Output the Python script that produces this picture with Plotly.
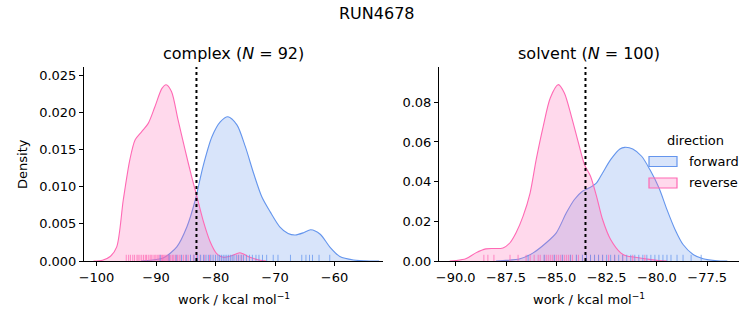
import plotly.graph_objects as go

# ---------------- data ----------------
# KDE curves: complex leg
cx_rev_x = [-100.5, -99.0, -97.7, -96.6, -95.5, -94.4, -93.5, -92.4, -91.3, -90.2, -89.0, -88.3,
            -87.4, -86.3, -85.1, -84.0, -83.2, -82.1, -80.9, -79.8, -78.7, -77.3, -75.9, -74.2, -72.5, -71.5]
cx_rev_y = [0.0, 0.0001, 0.0006, 0.0019, 0.0082, 0.0136, 0.0163, 0.0174, 0.0185, 0.0207, 0.0232, 0.0237,
            0.0228, 0.0190, 0.0149, 0.0113, 0.0089, 0.0055, 0.0026, 0.0010, 0.0005, 0.0007, 0.0011, 0.0005, 0.0001, 0.0]

cx_fwd_x = [-92.5, -91.0, -88.8, -86.5, -84.8, -83.4, -82.1, -80.6, -79.2, -77.9, -76.4, -75.0, -73.6,
            -72.2, -70.8, -69.2, -67.8, -66.6, -65.2, -64.0, -62.4, -60.8, -59.1, -56.8, -54.0, -52.5]
cx_fwd_y = [0.0, 0.0001, 0.0004, 0.0019, 0.0046, 0.0082, 0.0127, 0.0167, 0.0187, 0.0194, 0.0183, 0.0154, 0.0118,
            0.0086, 0.0066, 0.0046, 0.0037, 0.0035, 0.0038, 0.0042, 0.0036, 0.0019, 0.0006, 0.00013, 0.0, 0.0]

# KDE curves: solvent leg
sv_rev_x = [-90.3, -90.0, -89.5, -89.0, -88.5, -88.1, -87.65, -87.3, -87.0, -86.65, -86.3, -86.0, -85.65,
            -85.3, -84.9, -84.6, -84.25, -83.9, -83.6, -83.3, -83.0, -82.7, -82.3, -81.8, -81.5, -81.0,
            -80.5, -80.0, -79.5]
sv_rev_y = [0.0, 0.0002, 0.0011, 0.0041, 0.0061, 0.0063, 0.0066, 0.0092, 0.0142, 0.0226, 0.0344, 0.0511, 0.0679,
            0.0822, 0.0889, 0.0847, 0.0729, 0.0595, 0.0486, 0.0427, 0.0326, 0.0209, 0.0108, 0.0041, 0.0025, 0.0018,
            0.0010, 0.0003, 0.0]

sv_fwd_x = [-88.0, -87.65, -86.8, -86.15, -85.5, -85.0, -84.5, -84.1, -83.7, -83.35, -83.0, -82.7, -82.3,
            -81.84, -81.6, -81.2, -80.76, -80.35, -79.9, -79.5, -79.1, -78.7, -78.2, -77.7, -77.0, -76.5]
sv_fwd_y = [0.0, 0.0002, 0.0011, 0.0041, 0.0092, 0.0142, 0.0243, 0.0310, 0.0352, 0.0369, 0.0394, 0.0444, 0.0511,
            0.0565, 0.0573, 0.0565, 0.0528, 0.0461, 0.0369, 0.0259, 0.0159, 0.0083, 0.0033, 0.0011, 0.0001, 0.0]

# rug samples (approximate positions)
cx_rev_rug = [-95.0, -94.6, -94.3, -93.9, -93.6, -93.2, -93.0, -92.7, -92.4, -92.1, -91.8, -91.6, -91.3,
              -91.0, -90.8, -90.5, -90.2, -90.0, -89.7, -89.5, -89.3, -89.1, -88.9, -88.7, -88.5, -88.3,
              -88.1, -87.9, -87.7, -87.5, -87.2, -87.0, -86.7, -86.4, -86.1, -85.8, -85.4, -85.0, -84.6,
              -84.2, -83.7, -83.2, -82.6, -81.9, -81.0, -76.2, -75.6]
cx_fwd_rug = [-89.3, -87.8, -86.6, -85.7, -84.9, -84.2, -83.6, -83.0, -82.5, -82.0, -81.6, -81.2, -80.8,
              -80.4, -80.0, -79.6, -79.3, -79.0, -78.7, -78.4, -78.1, -77.8, -77.5, -77.2, -76.9, -76.5,
              -76.1, -75.7, -75.3, -74.8, -74.3, -73.8, -73.2, -72.7, -72.1, -71.4, -70.3, -69.5, -67.4,
              -65.5, -64.8, -64.2, -63.7, -62.6, -60.8]
sv_rev_rug = [-88.6, -88.4, -88.1, -87.3, -86.9, -86.5, -86.3, -86.1, -85.9, -85.8, -85.6, -85.5, -85.4,
              -85.3, -85.2, -85.1, -85.0, -84.9, -84.8, -84.7, -84.6, -84.5, -84.4, -84.3, -84.2, -84.0,
              -83.9, -83.7, -83.5, -83.3, -83.1, -82.9, -82.7, -82.4, -82.1, -81.7, -81.2, -80.6]
sv_fwd_rug = [-86.4, -85.6, -85.1, -84.7, -84.3, -84.0, -83.7, -83.5, -83.3, -83.1, -82.9, -82.7, -82.5,
              -82.3, -82.1, -81.9, -81.7, -81.5, -81.3, -81.1, -80.9, -80.7, -80.5, -80.3, -80.1, -79.9,
              -79.7, -79.5, -79.3, -79.0, -78.7, -78.3, -77.8]

free_energy = [-83.2, -83.55]          # dotted vertical lines (complex, solvent)
panel_titles = ["complex (<i>N</i> = 92)", "solvent (<i>N</i> = 100)"]
directions = ["forward", "reverse"]
legend_title = "direction"

left_yticks = [0.0, 0.005, 0.010, 0.015, 0.020, 0.025]
right_yticks = [0.0, 0.02, 0.04, 0.06, 0.08]
left_xticks = [-100, -90, -80, -70, -60]
right_xticks = [-90.0, -87.5, -85.0, -82.5, -80.0, -77.5]

# ---------------- styling ----------------
W, H = 753, 325
BLUE = "#6495ED"
PINK = "#FF69B4"
BLUE_FILL = "rgba(100,149,237,0.25)"
PINK_FILL = "rgba(255,105,180,0.25)"
BLUE_RUG = "rgba(100,149,237,0.75)"
PINK_RUG = "rgba(255,105,180,0.75)"
FONT = "DejaVu Sans"

def px_x(p):
    return p / W

def px_y(p):
    return 1 - p / H

dom1 = [px_x(84), px_x(383)]
dom2 = [px_x(439), px_x(739)]
ydom = [px_y(261), px_y(67)]

fig = go.Figure()

def add_kde(x, y, color, fill, name, xa, ya):
    fig.add_trace(go.Scatter(
        x=x, y=y, mode="lines", line=dict(color=color, width=1.1, shape="spline", smoothing=0.8),
        fill="tozeroy", fillcolor=fill, name=name, showlegend=False,
        xaxis=xa, yaxis=ya, hoverinfo="skip"))

add_kde(cx_fwd_x, cx_fwd_y, BLUE, BLUE_FILL, directions[0], "x", "y")
add_kde(cx_rev_x, cx_rev_y, PINK, PINK_FILL, directions[1], "x", "y")
add_kde(sv_fwd_x, sv_fwd_y, BLUE, BLUE_FILL, directions[0], "x2", "y2")
add_kde(sv_rev_x, sv_rev_y, PINK, PINK_FILL, directions[1], "x2", "y2")

shapes = []
def add_rug(vals, color, xref, yref):
    for v in vals:
        shapes.append(dict(type="line", xref=xref, yref=yref + " domain", x0=v, x1=v, y0=0, y1=0.032,
                           line=dict(color=color, width=1)))

add_rug(cx_rev_rug, PINK_RUG, "x", "y")
add_rug(cx_fwd_rug, BLUE_RUG, "x", "y")
add_rug(sv_rev_rug, PINK_RUG, "x2", "y2")
add_rug(sv_fwd_rug, BLUE_RUG, "x2", "y2")

for v, xr, yr in zip(free_energy, ["x", "x2"], ["y", "y2"]):
    shapes.append(dict(type="line", xref=xr, yref=yr + " domain", x0=v, x1=v, y0=0, y1=1,
                       line=dict(color="black", width=2, dash="dot")))

ann = []

# legend drawn as in seaborn (frameless, patches + labels)
leg_patch_x0, leg_patch_x1 = px_x(649), px_x(677)
leg_rows = [161.5, 183]
for name, color, fill, row in zip(directions, [BLUE, PINK], [BLUE_FILL, PINK_FILL], leg_rows):
    shapes.append(dict(type="rect", xref="paper", yref="paper", x0=leg_patch_x0, x1=leg_patch_x1,
                       y0=px_y(row + 5), y1=px_y(row - 5), fillcolor=fill,
                       line=dict(color=color, width=1.2)))
    ann.append(dict(text=name, x=px_x(687), y=px_y(row), xref="paper", yref="paper", showarrow=False,
                    font=dict(family=FONT, size=13), xanchor="left", yanchor="middle"))
ann.append(dict(text=legend_title, x=px_x(695), y=px_y(141), xref="paper", yref="paper", showarrow=False,
                font=dict(family=FONT, size=13), xanchor="center", yanchor="middle"))

axis_common = dict(showline=True, linecolor="black", linewidth=1, ticks="outside", ticklen=4,
                   tickwidth=1, tickcolor="black", showgrid=False, zeroline=False,
                   tickfont=dict(family=FONT, size=13, color="black"), automargin=False)

fig.update_layout(
    width=W, height=H, margin=dict(l=0, r=0, t=0, b=0),
    paper_bgcolor="white", plot_bgcolor="white",
    font=dict(family=FONT, color="black"),
    xaxis=dict(domain=dom1, range=[-102.1, -51.85], tickvals=left_xticks, anchor="y", **axis_common),
    yaxis=dict(domain=ydom, range=[0, 0.02608], tickvals=left_yticks, tickformat=".3f", anchor="x", **axis_common),
    xaxis2=dict(domain=dom2, range=[-90.83, -75.92], tickvals=right_xticks, tickformat=".1f", anchor="y2", **axis_common),
    yaxis2=dict(domain=ydom, range=[0, 0.0978], tickvals=right_yticks, tickformat=".2f", anchor="x2", **axis_common),
    shapes=shapes,
    showlegend=False,
)

ann.append(dict(text="RUN4678", x=0.5, y=px_y(13), xref="paper", yref="paper", showarrow=False,
                font=dict(family=FONT, size=16), xanchor="center", yanchor="middle"))
for t, d in zip(panel_titles, [dom1, dom2]):
    ann.append(dict(text=t, x=(d[0] + d[1]) / 2, y=px_y(54), xref="paper", yref="paper", showarrow=False,
                    font=dict(family=FONT, size=16), xanchor="center", yanchor="middle"))
    ann.append(dict(text="work / kcal mol<sup>−1</sup>", x=(d[0] + d[1]) / 2, y=px_y(299), xref="paper",
                    yref="paper", showarrow=False, font=dict(family=FONT, size=13),
                    xanchor="center", yanchor="middle"))
ann.append(dict(text="Density", x=px_x(22), y=(ydom[0] + ydom[1]) / 2, xref="paper", yref="paper",
                showarrow=False, textangle=-90, font=dict(family=FONT, size=13),
                xanchor="center", yanchor="middle"))
fig.update_layout(annotations=ann)

fig.write_html("out.html")
